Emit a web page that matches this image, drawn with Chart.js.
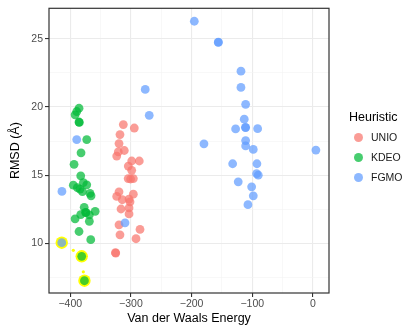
<!DOCTYPE html>
<html>
<head>
<meta charset="utf-8">
<script src="https://cdn.jsdelivr.net/npm/chart.js@4/dist/chart.umd.min.js"></script>
<style>
  body { margin: 0; background: #fff; font-family: "Liberation Sans", Arial, sans-serif; }
  #wrap { position: relative; width: 415px; height: 332px; }
  .lg { position: absolute; white-space: nowrap; }
  .key { position: absolute; width: 9px; height: 9px; border-radius: 50%; }
</style>
</head>
<body>
<div id="wrap">
  <canvas id="myChart" width="415" height="332"></canvas>
  <div id="legend"></div>
</div>
<script>
// tick labels
const xMajor = [-400, -300, -200, -100, 0];
const xMinor = [-350, -250, -150, -50];
const yMajor = [10, 15, 20, 25];
const yMinor = [7.5, 12.5, 17.5, 22.5];

// UNIO
const unioX = [-312.5, -294.4, -318, -319.6, -310.9, -320.8, -323.4, -298.7, -286.2, -304.3,
  -298.7, -304.5, -300.5, -296, -319.6, -296, -323.4, -314.2, -303.1, -301.5,
  -316.3, -303.1, -303.1, -319.6, -285, -318, -291.6, -325, -325.5];
const unioY = [18.71, 18.46, 17.98, 17.32, 16.81, 16.71, 16.40, 16.04, 16.04, 15.67,
  15.36, 14.75, 14.72, 14.75, 13.78, 13.61, 13.44, 13.20, 13.25, 13.05,
  12.52, 12.60, 12.16, 11.36, 11.02, 10.63, 10.34, 9.29, 9.32];

// KDEO
const kdeoX = [-385.5, -389.3, -392, -385, -385.6, -372.8, -382.2, -393.7, -382.7, -394.9,
  -378.4, -372.8, -383.9, -379.9, -367.4, -365.7, -388.3, -377, -358.9, -374.7,
  -374, -382.7, -368.5, -392, -368.5, -385.5, -366.2, -381.1, -376.6];
const kdeoY = [19.91, 19.67, 19.43, 18.87, 18.90, 17.61, 16.64, 15.80, 14.95, 14.27,
  14.46, 14.29, 13.98, 13.80, 13.66, 13.49, 14.09, 12.64, 12.35, 12.28,
  12.25, 12.11, 12.09, 11.80, 11.62, 10.87, 10.27, 9.05, 7.26];

// FGMO
const fgmoX = [-195.5, -156, -155.8, -118.6, -118.6, -110.9, -113.2, -127.4, -110.9, -111.2,
  -91.1, -110.9, -110.9, -98.3, -179.6, 4.9, -132.3, -92.3, -92.8, -90.1,
  -123.1, -101, -98.3, -107.1, -276.4, -269.8, -389.3, -413.7, -309.7, -414];
const fgmoY = [26.29, 24.74, 24.76, 22.63, 21.44, 20.20, 19.11, 18.39, 18.49, 18.51,
  18.41, 17.54, 17.15, 16.89, 17.30, 16.84, 15.84, 15.84, 15.11, 15.00,
  14.51, 14.15, 13.49, 12.84, 21.29, 19.39, 17.61, 13.81, 11.51, 10.05];

// highlighted points and small markers
const hiX = [-414, -381.1, -376.6];
const hiY = [10.05, 9.05, 7.26];
const markX = [-394.9, -378.4];
const markY = [9.49, 7.91];

const toPts = (xs, ys) => xs.map((x, i) => ({ x: x, y: ys[i] }));
const fmt = v => (v < 0 ? '\u2212' + Math.abs(v) : String(v));
const FONT = '"Liberation Sans", Arial, sans-serif';

function buildTicks(major, minor) {
  return function (scale) {
    scale.ticks = major.concat(minor).sort((a, b) => a - b).map(v => ({ value: v }));
  };
}
function gridOpts(major) {
  return {
    color: ctx => major.includes(ctx.tick.value) ? '#EBEBEB' : '#F3F3F3',
    lineWidth: ctx => major.includes(ctx.tick.value) ? 1.1 : 0.6,
    tickColor: ctx => major.includes(ctx.tick.value) ? '#333333' : 'rgba(0,0,0,0)',
    tickLength: 4,
    drawTicks: true,
  };
}

const panelBorder = {
  id: 'panelBorder',
  afterDatasetsDraw(chart) {
    const a = chart.chartArea;
    const c = chart.ctx;
    c.save();
    c.strokeStyle = '#333333';
    c.lineWidth = 1.2;
    c.strokeRect(a.left, a.top, a.right - a.left, a.bottom - a.top);
    c.restore();
  }
};

const series = [
  { label: 'UNIO', color: 'rgba(248,118,109,0.72)' },
  { label: 'KDEO', color: 'rgba(0,186,56,0.72)' },
  { label: 'FGMO', color: 'rgba(97,156,255,0.72)' },
];

const ctx = document.getElementById('myChart').getContext('2d');
const myChart = new Chart(ctx, {
  type: 'scatter',
  data: {
    datasets: [
      { label: 'FGMO', data: toPts(fgmoX, fgmoY), backgroundColor: series[2].color, pointRadius: 4.4, borderWidth: 0, order: 1 },
      { label: 'KDEO', data: toPts(kdeoX, kdeoY), backgroundColor: series[1].color, pointRadius: 4.4, borderWidth: 0, order: 2 },
      { label: 'UNIO', data: toPts(unioX, unioY), backgroundColor: series[0].color, pointRadius: 4.4, borderWidth: 0, order: 3 },
      { label: 'highlight', data: toPts(hiX, hiY), backgroundColor: '#FFFF00', pointRadius: 6.2, borderWidth: 0, order: 4 },
      { label: 'marker', data: toPts(markX, markY), backgroundColor: '#FFFF00', pointRadius: 1.6, borderWidth: 0, order: 4 },
    ]
  },
  options: {
    responsive: false,
    animation: false,
    events: [],
    layout: { padding: { top: 6, right: 86, bottom: 0, left: 0 } },
    plugins: { legend: { display: false }, tooltip: { enabled: false } },
    scales: {
      x: {
        type: 'linear',
        min: -435,
        max: 26.5,
        afterBuildTicks: buildTicks(xMajor, xMinor),
        afterFit: s => { s.height = 39; },
        grid: gridOpts(xMajor),
        border: { display: false },
        ticks: {
          callback: v => xMajor.includes(v) ? fmt(v) : '',
          color: '#4D4D4D',
          font: { family: FONT, size: 10.5 },
          padding: 1,
          maxRotation: 0,
          autoSkip: false,
        },
        title: {
          display: true,
          text: 'Van der Waals Energy',
          color: '#000000',
          font: { family: FONT, size: 12.5 },
          padding: { top: 0, bottom: 6 },
        },
      },
      y: {
        type: 'linear',
        min: 6.36,
        max: 27.24,
        afterBuildTicks: buildTicks(yMajor, yMinor),
        afterFit: s => { s.width = 49; },
        grid: gridOpts(yMajor),
        border: { display: false },
        ticks: {
          callback: v => yMajor.includes(v) ? fmt(v) : '',
          color: '#4D4D4D',
          font: { family: FONT, size: 10.5 },
          padding: 2,
          autoSkip: false,
        },
        title: {
          display: true,
          text: 'RMSD (Å)',
          color: '#000000',
          font: { family: FONT, size: 12.5 },
          padding: { top: 8, bottom: 0 },
        },
      },
    },
  },
  plugins: [panelBorder],
});

// legend
const lg = document.getElementById('legend');
let html = '<div class="lg" style="left:349px;top:110px;font-size:12.5px;line-height:15px;color:#000">Heuristic</div>';
series.forEach((s, i) => {
  const cy = 137 + i * 20;
  html += '<div class="key" style="left:' + (358.5 - 4.5) + 'px;top:' + (cy - 4.5) + 'px;background:' + s.color + '"></div>';
  html += '<div class="lg" style="left:371px;top:' + (cy - 6.5) + 'px;font-size:10.5px;line-height:13px;color:#1A1A1A">' + s.label + '</div>';
});
lg.innerHTML = html;
</script>
</body>
</html>
